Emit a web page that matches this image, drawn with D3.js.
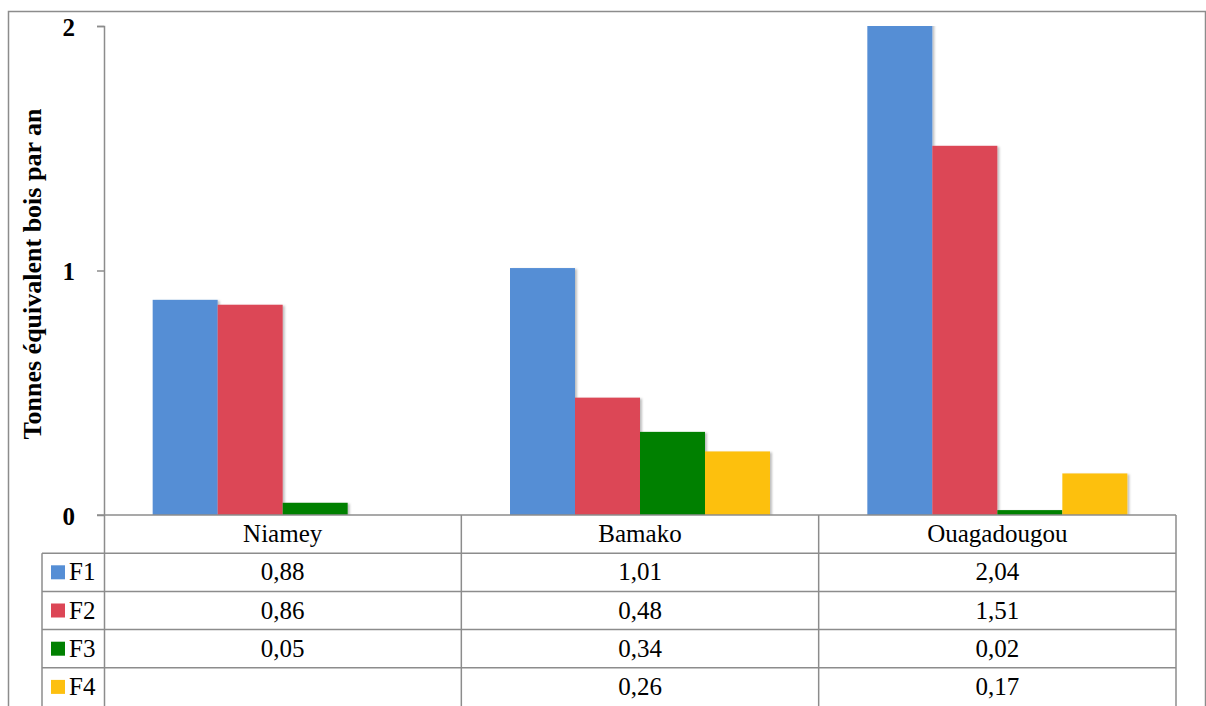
<!DOCTYPE html>
<html>
<head>
<meta charset="utf-8">
<script src="https://cdn.jsdelivr.net/npm/d3@7"></script>
<style>
  body { margin: 0; background: #fff; }
  svg text { font-family: "Liberation Serif", "Times New Roman", serif; }
</style>
</head>
<body>
<div id="chart"></div>
<script>
// donnees
const villes = ["Niamey", "Bamako", "Ouagadougou"];
const series = ["F1", "F2", "F3", "F4"];
const F1 = [0.88, 1.01, 2.04];
const F2 = [0.86, 0.48, 1.51];
const F3 = [0.05, 0.34, 0.02];
const F4 = [null, 0.26, 0.17];
const couleurs = ["#558ed5", "#dc4656", "#008000", "#fdc010"];
const yTicks = [0, 1, 2];
const titreY = "Tonnes équivalent bois par an";

const valeurs = [F1, F2, F3, F4];
const W = 1206, H = 706;
const gauche = 104, droite = 1176, haut = 26, zero = 515;
const rowH = 38.2;
const taille = 25;

const svg = d3.select("#chart").append("svg")
  .attr("width", W).attr("height", H)
  .attr("font-family", "Liberation Serif");

// ombre legere des barres
const defs = svg.append("defs");
const f = defs.append("filter").attr("id", "ombre")
  .attr("x", "-10%").attr("y", "-10%").attr("width", "130%").attr("height", "130%");
f.append("feDropShadow").attr("dx", 2).attr("dy", 1).attr("stdDeviation", 1.2)
  .attr("flood-color", "#000").attr("flood-opacity", 0.25);

// cadre exterieur
svg.append("path")
  .attr("d", `M8.5,${H} V11.5 H1205.5 V${H}`)
  .attr("fill", "none").attr("stroke", "#8c8c8c").attr("stroke-width", 1.5);

const x = d3.scaleBand().domain(villes).range([gauche, droite]);
const bw = 65;
const y = d3.scaleLinear().domain([0, 2]).range([zero, haut]);

// barres
const clip = defs.append("clipPath").attr("id", "zone");
clip.append("rect").attr("x", gauche).attr("y", haut).attr("width", droite - gauche).attr("height", zero - haut);

const g = svg.append("g").attr("clip-path", "url(#zone)");
series.forEach((s, i) => {
  g.append("g").selectAll("rect")
    .data(villes.map((v, j) => ({ v, val: valeurs[i][j] })).filter(d => d.val != null))
    .join("rect")
    .attr("x", d => x(d.v) + x.bandwidth() / 2 - 2 * bw + i * bw)
    .attr("y", d => y(d.val))
    .attr("width", bw)
    .attr("height", d => zero - y(d.val))
    .attr("fill", couleurs[i])
    .attr("filter", "url(#ombre)");
});

// axe y
const yAxis = svg.append("g").attr("transform", `translate(${gauche},0)`)
  .call(d3.axisLeft(y).tickValues(yTicks).tickSize(7).tickPadding(22).tickFormat(d3.format("d")));
yAxis.attr("font-family", null).attr("font-size", null);
yAxis.select(".domain").attr("d", `M-7,${haut}.5 H0.5 V${H}`).attr("stroke", "#8c8c8c").attr("stroke-width", 1.5);
yAxis.selectAll(".tick line").attr("stroke", "#8c8c8c").attr("stroke-width", 1.5);
yAxis.selectAll(".tick text")
  .attr("dy", "0.36em").attr("fill", "#000")
  .style("font-weight", "bold").style("font-size", "25px");

svg.append("text")
  .attr("transform", `translate(41,274) rotate(-90)`)
  .attr("text-anchor", "middle")
  .attr("font-weight", "bold").attr("font-size", 26)
  .text(titreY);

// tableau de donnees
const lignes = svg.append("g").attr("stroke", "#8c8c8c").attr("stroke-width", 1.5).attr("fill", "none");
lignes.append("line").attr("x1", 97).attr("x2", droite).attr("y1", zero).attr("y2", zero);
for (let r = 1; r <= 4; r++) {
  const yy = zero + r * rowH;
  lignes.append("line").attr("x1", 42).attr("x2", droite).attr("y1", yy).attr("y2", yy);
}
lignes.append("line").attr("x1", 42).attr("x2", 42).attr("y1", zero + rowH).attr("y2", H);
villes.forEach(v => {
  const xx = x(v) + x.bandwidth();
  lignes.append("line").attr("x1", xx).attr("x2", xx).attr("y1", zero).attr("y2", H);
});

const fmt = d => d3.format(".2f")(d).replace(".", ",");
svg.append("g").selectAll("text").data(villes).join("text")
  .attr("x", d => x(d) + x.bandwidth() / 2)
  .attr("y", zero + rowH / 2 + 8)
  .attr("text-anchor", "middle").attr("font-size", taille)
  .text(d => d);

series.forEach((s, i) => {
  const yy = zero + (i + 1) * rowH;
  svg.append("rect").attr("x", 51).attr("y", yy + rowH / 2 - 7).attr("width", 14).attr("height", 14)
    .attr("fill", couleurs[i]);
  svg.append("text").attr("x", 69).attr("y", yy + rowH / 2 + 8).attr("font-size", taille).text(s);
  svg.append("g").selectAll("text")
    .data(villes.map((v, j) => ({ v, val: valeurs[i][j] })).filter(d => d.val != null))
    .join("text")
    .attr("x", d => x(d.v) + x.bandwidth() / 2)
    .attr("y", yy + rowH / 2 + 8)
    .attr("text-anchor", "middle").attr("font-size", taille)
    .text(d => fmt(d.val));
});
</script>
</body>
</html>
